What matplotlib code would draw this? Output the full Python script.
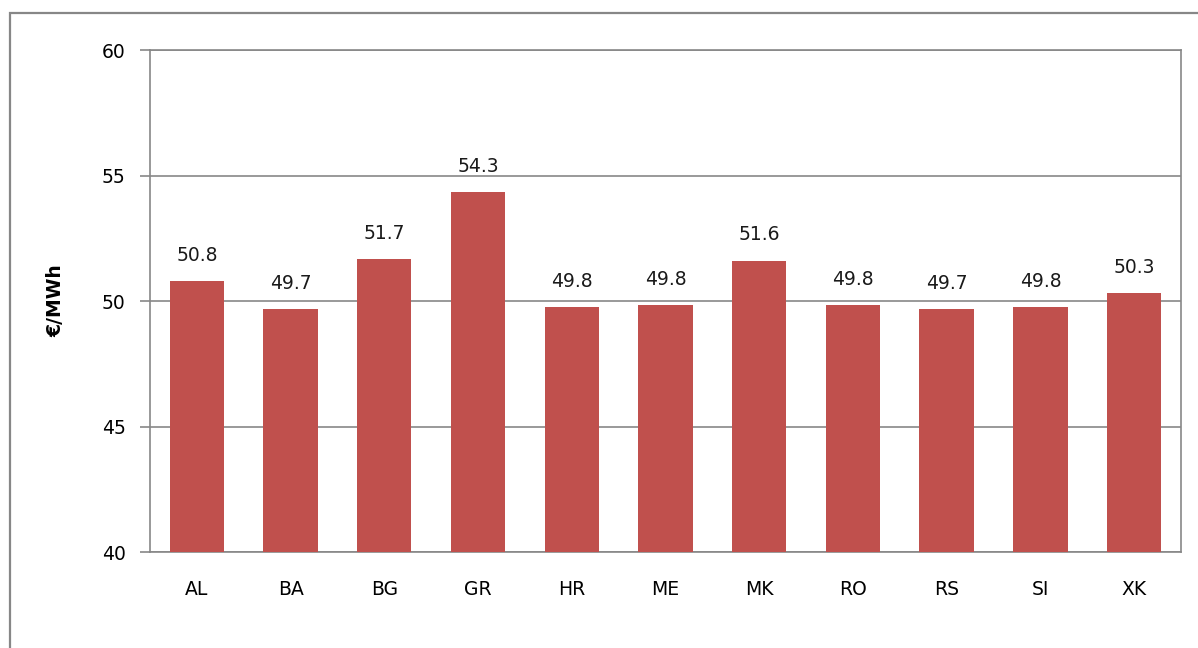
import matplotlib.pyplot as plt
from matplotlib.patches import Rectangle


countries = ['AL', 'BA', 'BG', 'GR', 'HR', 'ME', 'MK', 'RO', 'RS', 'SI', 'XK']
prices = [50.80, 49.68, 51.67, 54.33, 49.77, 49.84, 51.61, 49.84, 49.69, 49.77, 50.32]
yticks = [40, 45, 50, 55, 60]

bar_color = '#C0504D'
grey = '#878787'

fig = plt.figure(figsize=(11.98, 6.48), dpi=100)
ax = fig.add_axes([0.1252, 0.1481, 0.8606, 0.7747])

# outer chart frame, cut off at right and bottom like the screenshot
fig.patches.append(Rectangle((10 / 1198, -0.1), 1.2, 1 - 13 / 648 + 0.1,
                             transform=fig.transFigure, fill=False,
                             edgecolor=grey, linewidth=1.6))

x = range(len(countries))
ax.bar(x, prices, width=0.58, color=bar_color, zorder=3)

# value labels above each bar
for i, v in enumerate(prices):
    ax.annotate(f'{v:.1f}', (i, v), xytext=(0, 14.5), textcoords='offset points',
                ha='center', va='baseline', fontsize=13.5, color='#1a1a1a')

ax.set_ylim(40, 60)
ax.set_xlim(-0.5, len(countries) - 0.5)
ax.set_yticks(yticks)
ax.set_xticks(list(x))
ax.set_xticklabels(countries)
ax.yaxis.grid(True, color=grey, linewidth=1.2, zorder=0)
ax.tick_params(axis='y', length=7.5, width=1.2, color=grey, pad=10, labelsize=13.5)
ax.tick_params(axis='x', length=0, pad=20, labelsize=13.5)
for s in ax.spines.values():
    s.set_color(grey)
    s.set_linewidth(1.2)

ax.set_ylabel('€/MWh', fontsize=13.5, fontweight='bold')
ax.yaxis.set_label_coords(-0.082, 0.5)

fig.savefig('out.png', dpi=100)
